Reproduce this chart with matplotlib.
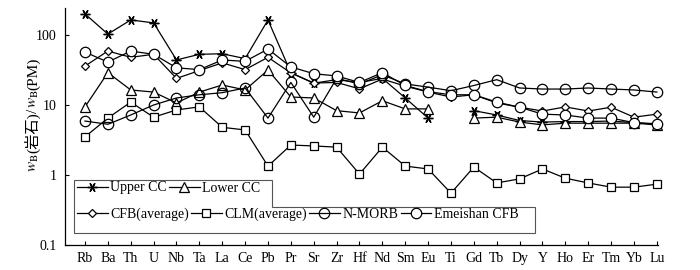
import numpy as np
import matplotlib
matplotlib.use("Agg")
import matplotlib.pyplot as plt
from matplotlib.patches import Polygon
from matplotlib.transforms import IdentityTransform

plt.rcParams['font.family'] = ['Liberation Serif', 'Noto Sans CJK SC']
plt.rcParams['mathtext.fontset'] = 'stix'

nan = np.nan
elements = ['Rb', 'Ba', 'Th', 'U', 'Nb', 'Ta', 'La', 'Ce', 'Pb', 'Pr', 'Sr', 'Zr', 'Hf',
            'Nd', 'Sm', 'Eu', 'Ti', 'Gd', 'Tb', 'Dy', 'Y', 'Ho', 'Er', 'Tm', 'Yb', 'Lu']

# PM-normalised values
upper_cc = [200, 103, 164, 149, 44, 53, 54, 46, 164, 29, 20.5, 23, 21, 24, 12.6, 6.5,
            nan, 8.3, 7.2, 6.0, 5.7, 5.8, 5.8, 5.9, 5.6, 5.4]
lower_cc = [9.4, 29, 16.4, 15.3, 10.7, 15.3, 19.3, 16.4, 31.6, 13, 12.6, 8.3, 7.7, 11.5,
            8.8, 8.8, nan, 6.5, 6.7, 5.7, 5.2, 5.5, 5.5, 5.5, 5.5, 5.2]
cfb_avg = [36, 59, 48, 53, 24, 31, 40, 32, 48, 28.7, 20.6, 21, 17, 23.5, 18.6, 15.3, 13,
           14, 10.7, 9.3, 8.2, 9.4, 8.2, 9.3, 6.7, 7.4]
clm_avg = [3.5, 6.5, 11, 6.7, 8.5, 9.4, 4.8, 4.4, 1.34, 2.68, 2.6, 2.5, 1.03, 2.5, 1.34,
           1.22, 0.55, 1.3, 0.77, 0.88, 1.22, 0.9, 0.77, 0.67, 0.67, 0.74]
n_morb = [5.9, 5.3, 7.2, 10, 12.6, 14, 15, 17.5, 6.5, 21, 6.7, 24, 20, 27, 20, 18, 16,
          19, 23, 17.5, 16.9, 16.9, 17.5, 16.9, 16.4, 15.3]
emeishan = [57, 41, 59, 53, 34, 32, 44, 42, 63, 35, 28, 26, 21, 29, 19, 15.5, 14, 14,
            11, 9.3, 7.4, 7.2, 6.5, 6.5, 5.6, 5.3]

x = np.arange(len(elements))

fig = plt.figure(figsize=(7, 2.7), dpi=100)
ax = fig.add_axes([65/700, 1 - 245/270, 593/700, 237/270])

kw = dict(color='black', lw=0.9, clip_on=False)
h_upper, = ax.plot(x, upper_cc, marker=(6, 2, 90), ms=7, mew=1.0, label='Upper CC', **kw)
h_lower, = ax.plot(x, lower_cc, marker='^', ms=7, mfc='white', mew=0.9, label='Lower CC', **kw)
h_cfb, = ax.plot(x, cfb_avg, marker='D', ms=4.5, mfc='white', mew=0.9, label='CFB(average)', **kw)
h_clm, = ax.plot(x, clm_avg, marker='s', ms=6, mfc='white', mew=0.9, label='CLM(average)', **kw)
h_morb, = ax.plot(x, n_morb, marker='o', ms=7.5, mfc='none', mew=0.9, label='N-MORB', **kw)
h_emei, = ax.plot(x, emeishan, marker='o', ms=7.5, mfc='white', mew=0.9, label='Emeishan CFB', **kw)

ax.set_yscale('log')
ax.set_ylim(0.1, 10 ** (2 + 27 / 70))
ax.set_xlim(-0.874, 25.05)
ax.set_yticks([0.1, 1, 10, 100])
ax.set_yticklabels(['0.1', '1', '10', '100'])
ax.yaxis.set_minor_locator(matplotlib.ticker.NullLocator())
ax.set_xticks(x)
ax.set_xticklabels(elements)
ax.tick_params(axis='both', direction='in', length=3, width=0.8, labelsize=10)
ax.tick_params(axis='x', pad=5)
ax.tick_params(axis='y', pad=6)
for s in ['top', 'right']:
    ax.spines[s].set_visible(False)
for s in ['left', 'bottom']:
    ax.spines[s].set_linewidth(0.9)

# L-shaped legend frame
pts = [(74, 180), (272, 180), (272, 207), (535, 207), (535, 233), (74, 233)]
frame = Polygon([(px / 700, 1 - py / 270) for px, py in pts], closed=True,
                transform=fig.transFigure, facecolor='white', edgecolor='#555555',
                lw=0.8, zorder=4, clip_on=False)
ax.add_patch(frame)

leg_kw = dict(frameon=False, fontsize=10, handlelength=2.2, handletextpad=0.2,
              columnspacing=0.15, borderpad=0, borderaxespad=0, loc='center left',
              bbox_transform=fig.transFigure)
leg1 = ax.legend(handles=[h_upper, h_lower], ncol=2,
                 bbox_to_anchor=(77 / 700, 1 - 188 / 270), **leg_kw)
ax.add_artist(leg1)
leg2 = ax.legend(handles=[h_cfb, h_clm, h_morb, h_emei], ncol=4,
                 bbox_to_anchor=(77 / 700, 1 - 214 / 270), **leg_kw)
leg1.set_zorder(6)
leg2.set_zorder(6)

# y label built from pieces so the Chinese text and subscripts both render
fig.canvas.draw()
renderer = fig.canvas.get_renderer()
pieces = [r'$w_\mathrm{B}$', '(岩石)', '/', r'$w_\mathrm{B}$', '(PM)']
widths = []
for p in pieces:
    tmp = fig.text(0, 0, p, fontsize=11, transform=IdentityTransform())
    widths.append(tmp.get_window_extent(renderer).width)
    tmp.remove()
px, py = 37, 270 - 172
for p, w in zip(pieces, widths):
    fig.text(px, py, p, rotation=90, rotation_mode='anchor', ha='left',
             va='baseline', fontsize=11, transform=IdentityTransform())
    py += w

fig.savefig('out.png', dpi=100)
